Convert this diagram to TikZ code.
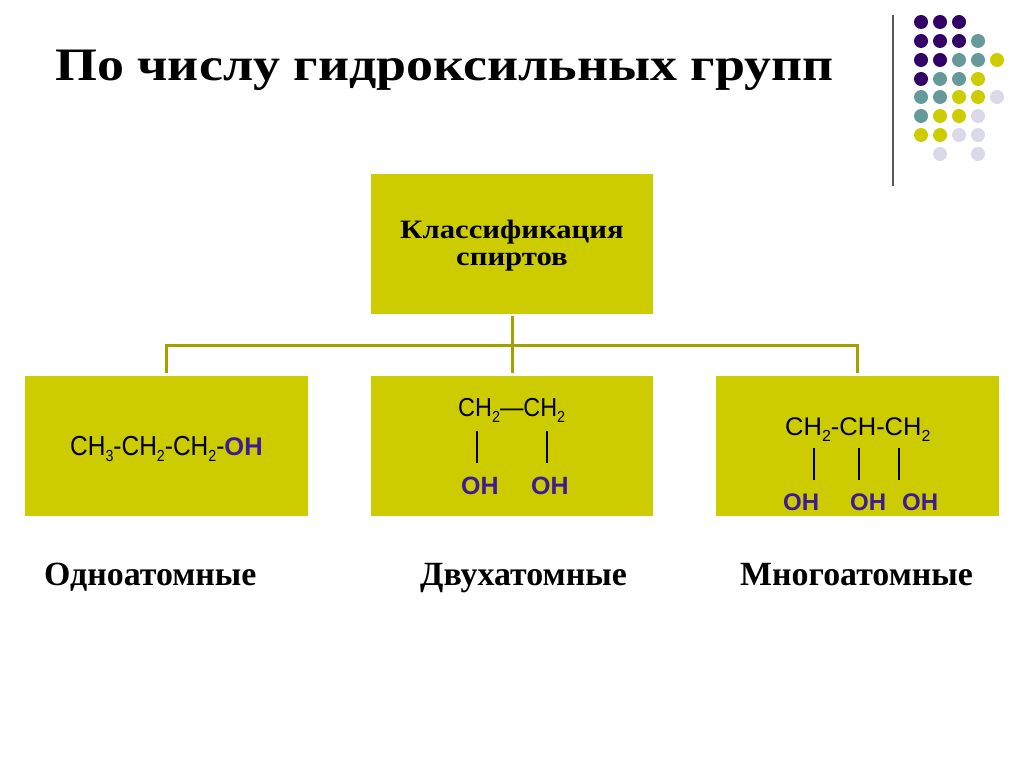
\documentclass[tikz,border=0pt]{standalone}
\usepackage{fontspec}
\setmainfont{Liberation Serif}
\setsansfont{Liberation Sans}
\newfontfamily\wideserif{Liberation Serif}[FakeStretch=1.16]
\newfontfamily\narrowsans{Liberation Sans}[FakeStretch=0.9]
\newfontfamily\narrowsansB{Liberation Sans}[FakeStretch=0.89]
\definecolor{boxfill}{HTML}{CCCC00}
\definecolor{connline}{HTML}{A3A000}
\definecolor{ohblue}{HTML}{3F1A96}
\definecolor{dotA}{HTML}{330066}
\definecolor{dotB}{HTML}{669999}
\definecolor{dotC}{HTML}{CCCC00}
\definecolor{dotD}{HTML}{D9D9EA}
\newcommand{\subtwo}[1]{\raisebox{-0.25em}{\fontsize{16}{16}\selectfont #1}}
\tikzset{
  x=1pt,y=-1pt,
  classbox/.style={fill=boxfill,draw=none,minimum width=283,minimum height=140,inner sep=0,outer sep=0,anchor=north west},
  conn/.style={draw=connline,line width=3},
  bar/.style={draw=black,line width=1.5},
  formula/.style={anchor=base west,inner sep=0,font=\narrowsans\fontsize{26}{26}\selectfont,text=black},
  formulaA/.style={anchor=base west,inner sep=0,font=\narrowsansB\fontsize{27.5}{27.5}\selectfont,text=black},
  formulaB/.style={anchor=base west,inner sep=0,font=\sffamily\fontsize{25.5}{25.5}\selectfont,text=black},
  oh/.style={anchor=base west,inner sep=0,font=\sffamily\bfseries\fontsize{25}{25}\selectfont,text=ohblue},
  ohsmall/.style={anchor=base west,inner sep=0,font=\sffamily\bfseries\fontsize{24}{24}\selectfont,text=ohblue},
  kind/.style={anchor=base west,inner sep=0,font=\rmfamily\bfseries\fontsize{33.9}{34}\selectfont},
  dotd/.style={circle,minimum size=14,inner sep=0,draw=none}
}
\begin{document}
\begin{tikzpicture}
\useasboundingbox (0,0) rectangle (1024,767);
\fill[white] (0,0) rectangle (1024,767);
\node[anchor=base west,inner sep=0,font=\wideserif\bfseries\fontsize{46.5}{46.5}\selectfont] (title) at (55,81) {По числу гидроксильных групп};
% decoration
\draw[draw=black!65,line width=1.5] (893,15) -- (893,186);
\foreach \x/\y/\c [count=\i] in {
 921/22/dotA,940/22/dotA,959/22/dotA,
 921/41/dotA,940/41/dotA,959/41/dotA,978/41/dotB,
 921/60/dotA,940/60/dotA,959/60/dotB,978/60/dotB,997/60/dotC,
 921/79/dotA,940/79/dotB,959/79/dotB,978/79/dotC,
 921/97/dotB,940/97/dotB,959/97/dotC,978/97/dotC,997/97/dotD,
 921/116/dotB,940/116/dotC,959/116/dotC,978/116/dotD,
 921/135/dotC,940/135/dotC,959/135/dotD,978/135/dotD,
 940/154/dotD,978/154/dotD}
 \node[dotd,fill=\c] (d\i) at (\x,\y) {};
% boxes
\node[classbox,minimum width=282] (top) at (371,174) {};
\node[inner sep=0,font=\wideserif\bfseries\fontsize{26.5}{26.6}\selectfont,align=center] (toplabel) at (512,245.5) {Классификация\\спиртов};
\node[classbox] (left) at (25,376) {};
\node[classbox,minimum width=282] (mid) at (371,376) {};
\node[classbox] (right) at (716,376) {};
% connectors
\coordinate (bus) at (512,345);
\draw[conn,shorten <=2,shorten >=3] (top.south) -- (mid.north);
\draw[conn,shorten >=3] (bus) -| (left.north);
\draw[conn,shorten >=3] (bus) -| (right.north);
% formulas
\node[formulaA] (f1) at (70,455) {CH\subtwo{3}-CH\subtwo{2}-CH\subtwo{2}-\textcolor{ohblue}{\sffamily\bfseries\fontsize{25.5}{25.5}\selectfont OH}};
\node[formula] (f2) at (458,416) {CH\subtwo{2}—CH\subtwo{2}};
\draw[bar] (477,431) -- (477,463);
\draw[bar] (547,431) -- (547,463);
\node[oh] (o21) at (461,494) {OH};
\node[oh] (o22) at (531,494) {OH};
\node[formulaB] (f3) at (785,435) {CH\subtwo{2}-CH-CH\subtwo{2}};
\draw[bar] (814,448) -- (814,480);
\draw[bar] (859,448) -- (859,480);
\draw[bar] (899,448) -- (899,480);
\node[ohsmall] (o31) at (783,510) {OH};
\node[ohsmall] (o32) at (850,510) {OH};
\node[ohsmall] (o33) at (902,510) {OH};
% labels
\node[kind] (k1) at (44,585) {Одноатомные};
\node[kind] (k2) at (420,585) {Двухатомные};
\node[kind] (k3) at (740,585) {Многоатомные};
\end{tikzpicture}
\end{document}
